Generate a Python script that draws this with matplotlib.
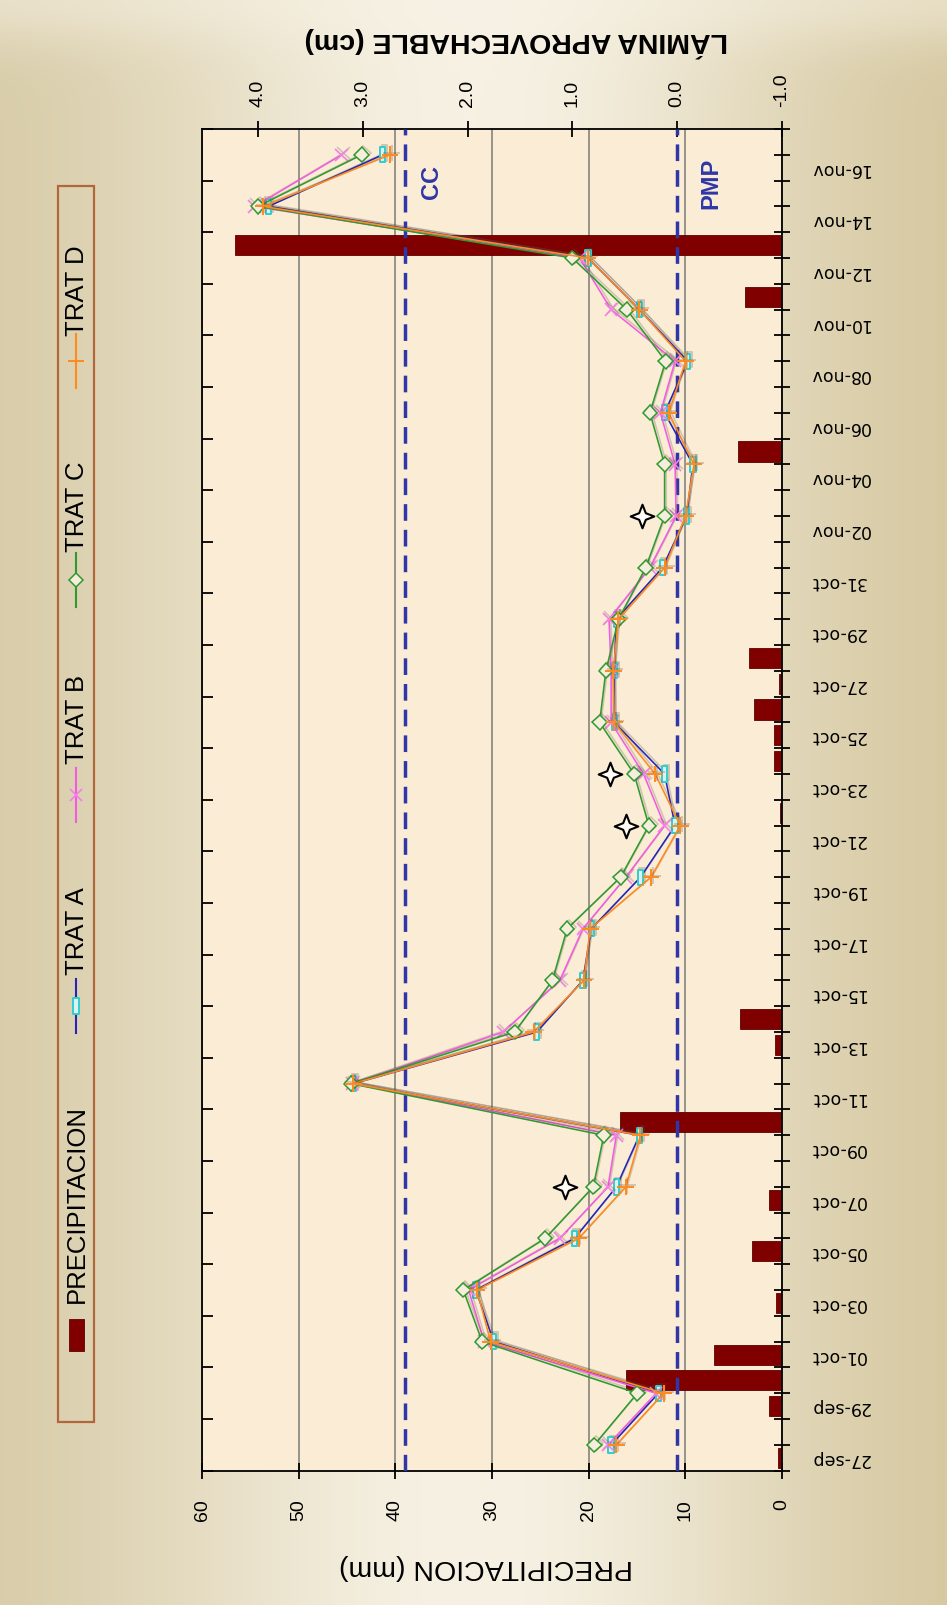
import numpy as np
import matplotlib
matplotlib.use("Agg")
import matplotlib.pyplot as plt
from matplotlib.path import Path
from matplotlib.patches import Rectangle
from matplotlib.lines import Line2D
from matplotlib.ticker import MultipleLocator, FixedLocator, NullFormatter, FixedFormatter
import matplotlib.patheffects as pe

plt.rcParams['font.family'] = ['Liberation Sans', 'DejaVu Sans']

# ---------------- data ----------------
# daily precipitation (mm), 27-sep ... 17-nov
precip_mm = [0.45, 0, 1.3, 16.1, 7.0, 0, 0.6, 0, 3.1, 0,
             1.3, 0, 0, 16.8, 0, 0, 0.7, 4.3, 0, 0,
             0, 0, 0, 0, 0, 0.25, 0, 0.8, 0.8, 2.9,
             0.3, 3.4, 0, 0, 0, 0, 0, 0, 0, 4.6,
             0, 0, 0, 0, 0, 3.8, 0, 56.6, 0, 0,
             0, 0]

# labelled dates (every second day); soil water readings are taken on these days
date_labels = ['27-sep', '29-sep', '01-oct', '03-oct', '05-oct', '07-oct', '09-oct',
               '11-oct', '13-oct', '15-oct', '17-oct', '19-oct', '21-oct', '23-oct',
               '25-oct', '27-oct', '29-oct', '31-oct', '02-nov', '04-nov', '06-nov',
               '08-nov', '10-nov', '12-nov', '14-nov', '16-nov']

# available water depth (cm) per treatment
trat_a = [0.63, 0.18, 1.75, 1.92, 0.98, 0.58, 0.36, 3.09, 1.34, 0.90, 0.82, 0.35, 0.02,
          0.12, 0.60, 0.60, 0.58, 0.14, -0.09, -0.15, 0.12, -0.10, 0.36, 0.85, 3.90, 2.81]
trat_b = [0.66, 0.20, 1.84, 1.99, 1.12, 0.66, 0.58, 3.10, 1.66, 1.12, 0.90, 0.49, 0.12,
          0.32, 0.63, 0.63, 0.65, 0.26, 0.01, 0.02, 0.16, 0.02, 0.63, 0.93, 4.03, 3.20]
trat_c = [0.79, 0.38, 1.86, 2.04, 1.26, 0.80, 0.70, 3.11, 1.55, 1.19, 1.05, 0.54, 0.27,
          0.41, 0.74, 0.68, 0.56, 0.30, 0.12, 0.12, 0.26, 0.11, 0.48, 1.00, 4.00, 3.01]
trat_d = [0.58, 0.13, 1.78, 1.91, 0.94, 0.49, 0.35, 3.09, 1.37, 0.89, 0.83, 0.25, -0.03,
          0.21, 0.60, 0.61, 0.56, 0.12, -0.08, -0.16, 0.08, -0.08, 0.36, 0.85, 3.95, 2.74]

# reference levels (cm): field capacity and wilting point
cc_level = 2.6
pmp_level = 0.0

# significant differences marked with a star (date label, depth in cm)
star_dates = ['07-oct', '21-oct', '23-oct', '02-nov']
star_depth = [1.07, 0.49, 0.64, 0.34]

# ---------------- figure ----------------
W, H = 947, 1606
fig = plt.figure(figsize=(W / 100, H / 100), dpi=100)


def fx(px):
    return px / W


def fy(py):
    return 1 - py / H


# warm parchment background
bg = fig.add_axes([0, 0, 1, 1], zorder=-10)
xs = np.linspace(0, 1, W)
ys = np.linspace(0, 1, H)
X, Y = np.meshgrid(xs, ys)
left_c = np.array([0xD4, 0xC7, 0xA1]) / 255
right_c = np.array([0xD1, 0xC2, 0x97]) / 255
centre_c = np.array([0xF6, 0xF1, 0xE3]) / 255
edge = left_c * (1 - X[..., None]) + right_c * X[..., None]
w = np.exp(-((X - 0.5) / 0.36) ** 2)[..., None]
img = edge + (centre_c - edge) * w
top_band = (0.5 * np.exp(-(Y / 0.03) ** 2))[..., None]
img = img + (np.array([0xF8, 0xF3, 0xE6]) / 255 - img) * top_band
bg.imshow(np.clip(img, 0, 1), aspect='auto', extent=[0, 1, 0, 1], origin='upper')
bg.set_axis_off()

x0, x1 = 202, 782
y0, y1 = 130, 1471.7
rect = [fx(x0), fy(y1), (x1 - x0) / W, (y1 - y0) / H]
n_days = len(precip_mm)

# ---- precipitation bars ----
ax = fig.add_axes(rect, zorder=1)
ax2 = ax.twiny()
bar_pos = np.arange(n_days) + 0.5
ax.set_facecolor('#FAECD5')
ax.barh(bar_pos, precip_mm, height=0.78, color='#800000', edgecolor='#5C0000',
        linewidth=0.6, zorder=2)
ax.set_xlim(60, 0)
ax.set_ylim(0, n_days)
ax.set_axisbelow(True)
ax.grid(axis='x', color='#8E8C84', linewidth=1.3)
ax.set_xticks(np.arange(0, 61, 10))
ax.set_xticklabels([str(v) for v in range(0, 61, 10)])
ax.tick_params(axis='x', direction='inout', length=12, width=1.3, pad=14,
               labelsize=14, labelrotation=90)
ax.tick_params(axis='y', which='both', left=False, right=False,
               labelleft=False, labelright=False)
for sp in ax.spines.values():
    sp.set_linewidth(1.3)
    sp.set_color('black')

# ---- water depth axis on top ----
ax2.set_xlim(4.533, -1.0)
ax2.set_xticks([-1, 0, 1, 2, 3, 4])
ax2.set_xticklabels(['%.1f' % v for v in [-1, 0, 1, 2, 3, 4]])
ax2.tick_params(axis='x', direction='inout', length=12, width=1.3, pad=10.5,
                labelsize=14, labelrotation=90)
for sp in ax2.spines.values():
    sp.set_visible(False)

# ---- day axis on the right: a tick between days, labels every second day ----
label_idx = [2 * k for k in range(len(date_labels))]
axR = fig.add_axes(rect, zorder=3, frameon=False)
axR.patch.set_visible(False)
axR.set_ylim(0, n_days)
axR.xaxis.set_visible(False)
axR.yaxis.tick_right()
axR.yaxis.set_major_locator(MultipleLocator(1))
axR.yaxis.set_major_formatter(NullFormatter())
axR.yaxis.set_minor_locator(FixedLocator([i + 0.5 for i in label_idx]))
axR.yaxis.set_minor_formatter(FixedFormatter(date_labels))
axR.tick_params(axis='y', which='major', direction='inout', length=11, width=1.3,
                right=True, left=False, labelright=False, labelleft=False)
axR.tick_params(axis='y', which='minor', length=0, pad=20, right=True, left=False,
                labelright=True, labelleft=False, labelsize=12.5, labelrotation=180)
for lab in axR.get_yticklabels(minor=True):
    lab.set_family('DejaVu Sans')
    lab.set_va('center')
    lab.set_ha('left')

# ---- two-day ticks on the left edge ----
axL = fig.add_axes(rect, zorder=3, frameon=False)
axL.patch.set_visible(False)
axL.set_ylim(0, n_days)
axL.xaxis.set_visible(False)
axL.yaxis.tick_left()
axL.yaxis.set_major_locator(MultipleLocator(2))
axL.yaxis.set_major_formatter(NullFormatter())
axL.tick_params(axis='y', direction='in', length=8, width=1.3, left=True, right=False)

# reference lines
dash_col = '#2F36A8'
ax2.axvline(cc_level, color=dash_col, lw=2.5, linestyle=(0, (4.8, 2.6)), zorder=3)
ax2.axvline(pmp_level, color=dash_col, lw=2.5, linestyle=(0, (4.8, 2.6)), zorder=3)
fig.text(fx(431), fy(182), 'CC', rotation=90, color=dash_col, fontsize=17,
         fontweight='bold', ha='center', va='center')
fig.text(fx(711), fy(183), 'PMP', rotation=90, color=dash_col, fontsize=17,
         fontweight='bold', ha='center', va='center')

# treatment lines
line_pos = [i + 1 for i in label_idx]
dash_marker = Path([(-0.35, -1), (0.35, -1), (0.35, 1), (-0.35, 1), (-0.35, -1)],
                   [Path.MOVETO, Path.LINETO, Path.LINETO, Path.LINETO, Path.CLOSEPOLY])
shadow = [pe.SimpleLineShadow(offset=(1.2, 1.2), shadow_color='#5A4A40', alpha=0.25),
          pe.Normal()]
styles = [
    (trat_a, 'TRAT A', dict(color='#2424B8', marker=dash_marker, ms=11, mfc='#D8F4F2',
                            mec='#33CCCC', mew=1.4)),
    (trat_b, 'TRAT B', dict(color='#F25CE0', marker='x', ms=9, mec='#F57FE6', mew=1.2)),
    (trat_c, 'TRAT C', dict(color='#2F9A2F', marker='D', ms=7.5, mfc='#F5EEDC',
                            mec='#2F9A2F', mew=1.1)),
    (trat_d, 'TRAT D', dict(color='#FF8A1E', marker='+', ms=12, mec='#FF8A1E', mew=1.4)),
]
for vals, name, st in styles:
    ax2.plot(vals, line_pos, lw=1.15, zorder=4, path_effects=shadow, **st)

# stars for significant differences
s = 0.28
star_verts = [(0, 1), (s, s), (1, 0), (s, -s), (0, -1), (-s, -s), (-1, 0), (-s, s), (0, 1)]
star_path = Path(star_verts, [Path.MOVETO] + [Path.LINETO] * 7 + [Path.CLOSEPOLY])
star_pos = [label_idx[date_labels.index(d)] + 1 for d in star_dates]
ax2.plot(star_depth, star_pos, linestyle='none', marker=star_path, ms=17,
         mfc='#FFFDF5', mec='black', mew=1.5, zorder=6)

# axis titles
fig.text(fx(486), fy(1567), 'PRECIPITACION (mm)', rotation=180, fontsize=20.5,
         ha='center', va='center')
fig.text(fx(516), fy(42), 'LÁMINA APROVECHABLE (cm)', rotation=180, fontsize=20.5,
         fontweight='bold', ha='center', va='center')

# legend box drawn along the left margin
fig.add_artist(Rectangle((fx(58), fy(1423)), 36 / W, (1423 - 187) / H,
                         transform=fig.transFigure, facecolor='none',
                         edgecolor='#B0683A', linewidth=1.6))
lx = 76
fig.add_artist(Rectangle((fx(lx - 7.5), fy(1352)), 15 / W, 32 / H,
                         transform=fig.transFigure, facecolor='#800000',
                         edgecolor='#5C0000', linewidth=0.6))
fig.text(fx(77), fy(1303), 'PRECIPITACION', rotation=90, fontsize=18.5,
         ha='center', va='bottom')
legend_rows = [(1007, 975), (796, 764), (581, 552), (362, 336)]
for (vals, name, st), (yc, ytxt) in zip(styles, legend_rows):
    fig.add_artist(Line2D([fx(lx), fx(lx)], [fy(yc + 27), fy(yc - 27)],
                          transform=fig.transFigure, color=st['color'], lw=1.5))
    mk = {k: v for k, v in st.items() if k != 'color'}
    fig.add_artist(Line2D([fx(lx)], [fy(yc)], transform=fig.transFigure,
                          linestyle='none', **mk))
    fig.text(fx(77), fy(ytxt), name, rotation=90, fontsize=18.5, ha='center',
             va='bottom')

fig.savefig('out.png', dpi=100)
